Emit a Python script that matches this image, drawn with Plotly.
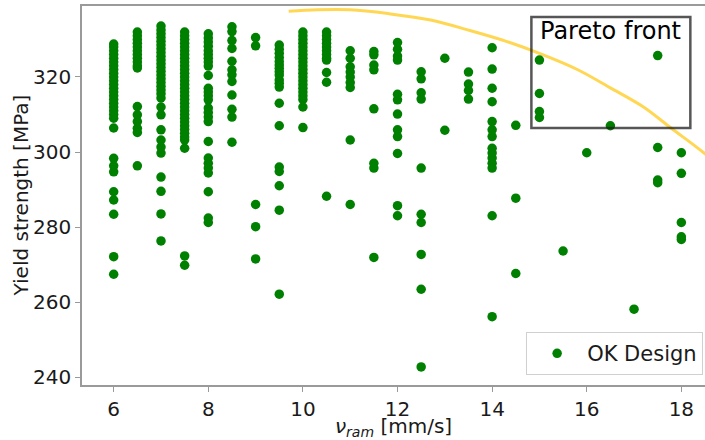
import plotly.graph_objects as go

# Ram speed columns (mm/s)
speeds = [6, 6.5, 7, 7.5, 8, 8.5, 9, 9.5, 10, 10.5, 11, 11.5, 12, 12.5,
          13, 13.5, 14, 14.5, 15, 15.5, 16, 16.5, 17, 17.5, 18]

# Yield strength values (MPa) for each ram speed column
yield_by_speed = [
    # 6
    [328.8, 328.0, 327.0, 326.0, 325.0, 324.0, 323.0, 322.0, 321.0, 320.0, 319.0, 318.0,
     317.0, 316.0, 315.0, 314.0, 313.0, 312.0, 311.0, 310.0, 309.0, 306.4, 298.3, 296.3,
     294.7, 289.4, 287.2, 283.4, 272.1, 267.4],
    # 6.5
    [332.0, 331.0, 330.0, 329.0, 328.0, 327.0, 326.0, 325.0, 324.0, 323.0, 322.4, 312.1,
     309.9, 308.1, 306.3, 305.2, 296.3],
    # 7
    [333.6, 332.5, 331.5, 330.5, 329.5, 328.5, 327.5, 326.5, 325.5, 324.5, 323.5, 322.5,
     321.5, 320.5, 319.5, 318.5, 317.5, 316.5, 315.5, 314.4, 312.0, 309.9, 305.9, 303.2,
     301.3, 299.7, 293.3, 289.5, 283.5, 276.3],
    # 7.5
    [332.0, 331.0, 330.0, 329.0, 328.0, 327.0, 326.0, 325.0, 324.0, 323.0, 322.0, 321.0,
     320.0, 319.0, 318.0, 317.0, 316.0, 315.0, 314.0, 313.0, 312.0, 311.0, 310.0, 309.0,
     308.0, 307.0, 306.0, 305.0, 304.0, 303.2, 301.0, 272.3, 269.8],
    # 8
    [331.5, 330.4, 329.3, 328.2, 327.0, 326.0, 325.0, 324.0, 322.9, 320.4, 317.0, 316.0,
     315.0, 313.9, 311.7, 310.5, 309.3, 308.1, 302.8, 298.4, 297.0, 295.7, 294.4, 289.4,
     282.4, 281.2],
    # 8.5
    [333.4, 332.1, 329.7, 327.6, 324.2, 321.9, 320.6, 318.8, 315.2, 311.4, 309.3, 302.6],
    # 9
    [330.5, 328.3, 286.0, 280.1, 271.5],
    # 9.5
    [328.5, 327.4, 326.3, 325.2, 324.1, 323.2, 322.3, 321.4, 320.5, 319.2, 318.3, 317.3,
     313.0, 307.0, 296.0, 294.8, 291.0, 284.5, 262.1],
    # 10
    [332.0, 331.0, 330.0, 329.0, 328.0, 327.0, 326.0, 325.0, 324.0, 323.0, 322.0, 321.0,
     320.0, 319.0, 318.0, 317.0, 316.0, 315.0, 314.0, 312.0, 306.5],
    # 10.5
    [332.0, 331.0, 330.0, 329.0, 328.0, 327.0, 326.0, 325.0, 324.5, 321.2, 318.6, 288.2],
    # 11
    [327.0, 325.0, 322.7, 321.3, 320.0, 318.5, 317.2, 303.2, 286.0],
    # 11.5
    [326.8, 325.9, 323.2, 321.9, 311.5, 297.0, 295.7, 271.9],
    # 12
    [329.2, 327.4, 325.6, 324.5, 315.4, 313.9, 310.1, 305.9, 304.1, 299.6, 285.7, 283.0],
    # 12.5
    [321.4, 319.5, 315.8, 314.1, 295.7, 283.4, 281.2, 272.7, 263.4, 242.7],
    # 13
    [325.0, 305.8],
    # 13.5
    [321.3, 318.1, 316.4, 314.1],
    # 14
    [327.8, 322.1, 317.0, 313.4, 308.1, 305.9, 304.1, 301.0, 299.7, 298.4, 297.0, 295.7,
     283.0, 256.1],
    # 14.5
    [307.1, 287.7, 267.6],
    # 15
    [324.5, 315.6, 310.8, 309.2],
    # 15.5
    [273.6],
    # 16
    [299.8],
    # 16.5
    [307.0],
    # 17
    [258.1],
    # 17.5
    [325.7, 301.2, 292.5, 291.8],
    # 18
    [299.8, 294.3, 281.2, 277.4, 276.7],
]

# Pareto front curve
pareto_x = [9.7, 10.3, 11.0, 11.8, 12.7, 13.5, 14.3, 15.0, 15.8, 16.5, 17.2, 17.8, 18.3, 18.8]
pareto_y = [337.5, 337.9, 337.9, 336.9, 335.2, 332.5, 329.5, 326.3, 322.0, 317.1, 312.0,
            306.2, 301.5, 296.5]

x_ticks = [6, 8, 10, 12, 14, 16, 18]
y_ticks = [240, 260, 280, 300, 320]

v_ram = []
yield_mpa = []
for s, ys in zip(speeds, yield_by_speed):
    for y in ys:
        v_ram.append(s)
        yield_mpa.append(y)

FONT = "DejaVu Sans"

fig = go.Figure()
fig.add_trace(go.Scatter(
    x=pareto_x, y=pareto_y, mode="lines", line_shape="spline",
    line=dict(color="rgba(255,205,40,0.8)", width=3),
    showlegend=False, hoverinfo="skip",
))
fig.add_trace(go.Scatter(
    x=v_ram, y=yield_mpa, mode="markers", name="OK Design",
    marker=dict(color="#008000", size=9.5, line=dict(width=0)),
))

fig.add_shape(type="rect", xref="x", yref="y", x0=14.83, x1=18.19, y0=306.4, y1=336.0,
              line=dict(color="rgba(30,30,30,0.75)", width=2.5), fillcolor="rgba(0,0,0,0)")
fig.add_annotation(x=16.51, y=332.2, xref="x", yref="y", text="Pareto front",
                   showarrow=False, font=dict(family=FONT, size=24, color="#000"))
# y-axis title placed as an annotation for exact position
fig.add_annotation(x=-0.098, y=0.5, xref="paper", yref="paper", text="Yield strength [MPa]",
                   textangle=-90, showarrow=False, xanchor="center", yanchor="middle",
                   font=dict(family=FONT, size=20, color="#1a1a1a"))

axis_common = dict(
    showgrid=False, zeroline=False, showline=True, linecolor="#9a9a9a", linewidth=1.6,
    ticks="outside", ticklen=5, tickwidth=1.2, tickcolor="#9a9a9a",
    tickfont=dict(family=FONT, size=20, color="#1a1a1a"),
)

fig.update_layout(
    width=705, height=440,
    margin=dict(l=82, r=0, t=6, b=55),
    paper_bgcolor="white", plot_bgcolor="white",
    font=dict(family=FONT, color="#1a1a1a"),
    xaxis=dict(range=[5.33, 18.5], tickvals=x_ticks, mirror=True,
               title=dict(text="<i>ν</i><sub><i>ram</i></sub> [mm/s]",
                          font=dict(family=FONT, size=20), standoff=2),
               **axis_common),
    yaxis=dict(range=[237.87, 338.93], tickvals=y_ticks, **axis_common),
    legend=dict(x=0.997, y=0.026, xanchor="right", yanchor="bottom",
                bgcolor="white", bordercolor="#d0d0d0", borderwidth=1,
                font=dict(family=FONT, size=21, color="#1a1a1a"), itemwidth=50),
)

fig.write_html("out.html", config={"displayModeBar": False},
               post_script="document.body.style.margin='0px';")
